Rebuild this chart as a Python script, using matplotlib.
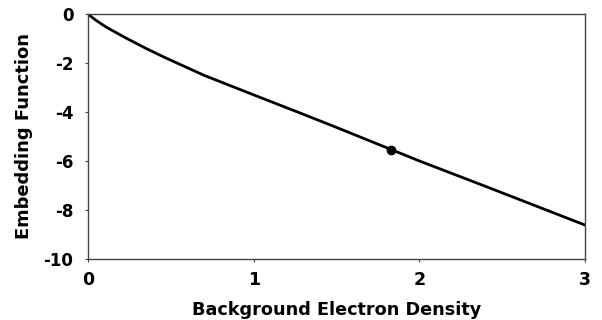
import matplotlib
matplotlib.use('Agg')
from matplotlib import pyplot as plt

# Embedding function vs background electron density
density = [0.0, 0.05, 0.11, 0.23, 0.35, 0.46, 0.7, 1.0, 1.28, 1.5, 2.0, 2.4, 2.7, 3.0]
embedding = [0.0, -0.26, -0.53, -0.98, -1.40, -1.76, -2.50, -3.30, -4.04, -4.63, -6.0, -7.04, -7.83, -8.62]

# Equilibrium point on the curve
eq_density = [1.83]
eq_embedding = [-5.56]

x_ticks = [0, 1, 2, 3]
y_ticks = [0, -2, -4, -6, -8, -10]

plt.rcParams['font.family'] = 'DejaVu Sans'
plt.rcParams['font.weight'] = 'bold'

fig = plt.figure(figsize=(6.02, 3.2), dpi=100)
ax = fig.add_axes([0.146, 0.191, 0.826, 0.765])

ax.plot(density, embedding, color='black', linewidth=2.0, solid_joinstyle='round')
ax.plot(eq_density, eq_embedding, 'o', color='black', markersize=6)

ax.set_xlim(0, 3)
ax.set_ylim(-10, 0)
ax.set_xticks(x_ticks)
ax.set_yticks(y_ticks)
ax.set_xticklabels([str(t) for t in x_ticks], fontsize=12.5, fontweight='bold')
ax.set_yticklabels([str(t) for t in y_ticks], fontsize=12, fontweight='bold')
ax.tick_params(axis='x', direction='out', length=2.5, width=0.8, color='#444444', pad=6.5)
ax.tick_params(axis='y', direction='out', length=2.5, width=0.8, color='#444444', pad=8)

for side in ['top', 'right', 'bottom', 'left']:
    ax.spines[side].set_color('#444444')
    ax.spines[side].set_linewidth(1.0)

ax.set_xlabel('Background Electron Density', fontsize=12.7, fontweight='bold')
ax.set_ylabel('Embedding Function', fontsize=12.9, fontweight='bold')
ax.xaxis.set_label_coords(0.5, -0.172)
ax.yaxis.set_label_coords(-0.111, 0.5)

fig.savefig('out.png', dpi=100)
